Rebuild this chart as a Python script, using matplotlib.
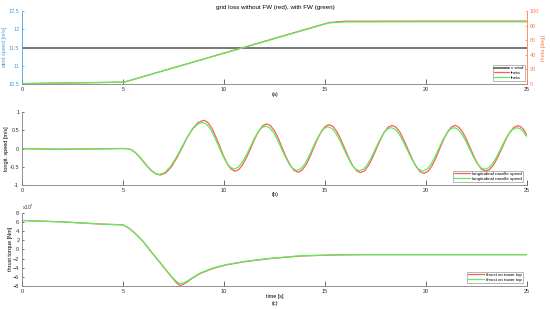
import numpy as np
import matplotlib.pyplot as plt

plt.rcParams['font.family'] = ['Liberation Sans', 'DejaVu Sans']

# panel (a): wind speed (left axis) and pitch angle (right axis)
wind_t = [0, 25]
v_wind = [11.5, 11.5]
theta_t = [0, 2.5, 5.05, 15.2, 16, 20, 25]
theta_red = [0.5, 1.5, 2.5, 84.5, 86.3, 86.5, 86.5]
theta_green = [0.5, 1.5, 2.5, 84.0, 85.3, 85.5, 85.5]

# panel (b): longitudinal nacelle speed
speed_t_red = [0, 0.5, 1, 1.5, 2, 2.5, 3, 3.5, 4, 4.5, 5,
               5.2, 5.41, 5.61, 5.82, 6.03, 6.23, 6.44, 6.64,
               6.85, 7.12, 7.39, 7.66, 7.93, 8.19, 8.46, 8.73,
               9.0, 9.19, 9.39, 9.58, 9.78, 9.97, 10.16, 10.36,
               10.55, 10.75, 10.94, 11.14, 11.34, 11.53, 11.73, 11.92,
               12.12, 12.31, 12.51, 12.7, 12.89, 13.08, 13.28, 13.47,
               13.66, 13.85, 14.05, 14.24, 14.43, 14.62, 14.82, 15.01,
               15.2, 15.4, 15.59, 15.79, 15.98, 16.18, 16.37, 16.57,
               16.76, 16.96, 17.15, 17.35, 17.54, 17.74, 17.93, 18.13,
               18.32, 18.52, 18.72, 18.91, 19.11, 19.31, 19.51, 19.7,
               19.9, 20.09, 20.29, 20.48, 20.67, 20.86, 21.06, 21.25,
               21.44, 21.63, 21.82, 22.01, 22.2, 22.39, 22.58, 22.77,
               22.96, 23.16, 23.36, 23.56, 23.76, 23.95, 24.15, 24.35,
               24.55, 24.7, 24.85, 25.0]
speed_red = [0, -0.005, -0.01, -0.015, -0.015, -0.012, -0.01, -0.008, -0.005, 0, 0.003,
             0, -0.028, -0.106, -0.224, -0.363, -0.501, -0.619, -0.697,
             -0.725, -0.668, -0.505, -0.26, 0.028, 0.315, 0.56, 0.723,
             0.78, 0.727, 0.576, 0.347, 0.08, -0.187, -0.416, -0.567,
             -0.62, -0.571, -0.43, -0.218, 0.03, 0.278, 0.49, 0.631,
             0.68, 0.629, 0.486, 0.269, 0.015, -0.239, -0.456, -0.599,
             -0.65, -0.6, -0.459, -0.245, 0.005, 0.255, 0.469, 0.61,
             0.66, 0.61, 0.467, 0.252, 0.0, -0.252, -0.467, -0.61,
             -0.66, -0.611, -0.47, -0.258, -0.01, 0.238, 0.45, 0.591,
             0.64, 0.59, 0.447, 0.232, -0.02, -0.272, -0.487, -0.63,
             -0.68, -0.63, -0.487, -0.272, -0.02, 0.232, 0.447, 0.59,
             0.64, 0.592, 0.456, 0.251, 0.01, -0.231, -0.436, -0.572,
             -0.62, -0.572, -0.438, -0.234, 0.005, 0.244, 0.448, 0.583,
             0.63, 0.6, 0.52, 0.37]
speed_t_green = [0, 0.5, 1, 1.5, 2, 2.5, 3, 3.5, 4, 4.5, 5,
                 5.2, 5.4, 5.6, 5.8, 6.0, 6.2, 6.4, 6.6,
                 6.8, 7.07, 7.34, 7.61, 7.88, 8.14, 8.41, 8.68,
                 8.95, 9.14, 9.34, 9.53, 9.73, 9.92, 10.11, 10.31,
                 10.5, 10.7, 10.89, 11.09, 11.29, 11.48, 11.68, 11.87,
                 12.07, 12.26, 12.46, 12.65, 12.84, 13.03, 13.23, 13.42,
                 13.61, 13.8, 14.0, 14.19, 14.38, 14.57, 14.77, 14.96,
                 15.15, 15.35, 15.54, 15.74, 15.93, 16.13, 16.32, 16.52,
                 16.71, 16.91, 17.1, 17.3, 17.49, 17.69, 17.88, 18.08,
                 18.27, 18.47, 18.67, 18.86, 19.06, 19.26, 19.46, 19.65,
                 19.85, 20.04, 20.24, 20.43, 20.62, 20.81, 21.01, 21.2,
                 21.39, 21.58, 21.77, 21.96, 22.15, 22.34, 22.53, 22.72,
                 22.91, 23.11, 23.31, 23.51, 23.71, 23.9, 24.1, 24.3,
                 24.5, 24.65, 24.8, 25.0]
speed_green = [0, -0.005, -0.01, -0.015, -0.015, -0.012, -0.01, -0.008, -0.005, 0, 0.003,
               0, -0.027, -0.104, -0.219, -0.355, -0.491, -0.606, -0.683,
               -0.71, -0.656, -0.501, -0.268, 0.005, 0.278, 0.511, 0.666,
               0.72, 0.671, 0.533, 0.324, 0.08, -0.164, -0.373, -0.511,
               -0.56, -0.515, -0.388, -0.195, 0.03, 0.255, 0.448, 0.575,
               0.62, 0.574, 0.442, 0.243, 0.01, -0.223, -0.422, -0.554,
               -0.6, -0.554, -0.425, -0.229, 0.0, 0.229, 0.425, 0.554,
               0.6, 0.554, 0.423, 0.226, -0.005, -0.236, -0.433, -0.564,
               -0.61, -0.565, -0.436, -0.242, -0.015, 0.212, 0.406, 0.535,
               0.58, 0.535, 0.406, 0.211, -0.018, -0.246, -0.441, -0.57,
               -0.615, -0.57, -0.44, -0.246, -0.018, 0.211, 0.406, 0.535,
               0.58, 0.536, 0.412, 0.225, 0.005, -0.215, -0.402, -0.526,
               -0.57, -0.526, -0.403, -0.216, 0.003, 0.221, 0.408, 0.531,
               0.575, 0.55, 0.48, 0.33]

# panel (c): thrust on tower top, in 1e7 Nm
thrust_t = [0, 1, 2, 3, 4, 5, 5.3, 5.6, 6.0, 6.5, 7.0, 7.4, 7.65, 7.82, 8.0, 8.15,
            8.4, 8.8, 9.2, 9.5, 10.1, 11, 12.3, 13.8, 15.6, 17, 20, 22, 25]
thrust_red = [6.3, 6.15, 6.0, 5.75, 5.5, 5.35, 4.6, 3.5, 1.7, -1.1, -3.8, -6.0, -7.3, -7.9,
              -7.6, -7.2, -6.4, -5.3, -4.6, -4.1, -3.4, -2.7, -2.0, -1.45, -1.2, -1.15,
              -1.15, -1.15, -1.15]
thrust_green = [6.3, 6.15, 6.0, 5.75, 5.5, 5.35, 4.6, 3.5, 1.7, -1.1, -3.75, -5.95, -7.0, -7.5,
                -7.3, -7.0, -6.3, -5.2, -4.5, -4.0, -3.35, -2.65, -1.95, -1.4, -1.2, -1.15,
                -1.15, -1.15, -1.15]

red = '#ff5a5a'
green = '#5af05a'
gray = '#808080'
blue = '#4a9fe0'
orange = '#ff7f50'

fig = plt.figure(figsize=(5.5, 3.09), dpi=100)
ax1 = fig.add_axes([0.04, 0.7282, 0.918, 0.2353])
ax2 = fig.add_axes([0.04, 0.4013, 0.918, 0.2353])
ax3 = fig.add_axes([0.04, 0.0744, 0.918, 0.2372])


def style(ax):
    ax.spines['top'].set_visible(False)
    ax.spines['right'].set_visible(False)
    for s in ['left', 'bottom']:
        ax.spines[s].set_color(gray)
        ax.spines[s].set_linewidth(0.6)
    ax.set_xlim(0, 25)
    ax.set_xticks(range(0, 26, 5))
    ax.tick_params(axis='x', direction='in', length=3.6, width=0.5, labelsize=4,
                   pad=2, colors='#303030')
    ax.tick_params(axis='y', direction='in', length=1.5, width=0.5, labelsize=4,
                   pad=2, colors='#303030')


for ax in [ax1, ax2, ax3]:
    style(ax)

# (a)
l0, = ax1.plot(wind_t, v_wind, color='#606060', lw=1.2, label='v wind')
ax1.set_ylim(10.5, 12.5)
ax1.set_yticks([10.5, 11, 11.5, 12, 12.5])
ax1.set_yticklabels(['10.5', '11', '11.5', '12', '12.5'])
ax1.spines['left'].set_color(blue)
ax1.tick_params(axis='y', colors=blue)
ax1.set_ylabel('wind speed [m/s]', fontsize=4, color=blue)
ax1.yaxis.set_label_coords(-0.03, 0.5)

ax1r = ax1.twinx()
ax1r.set_xlim(0, 25)
for s in ['top', 'left', 'bottom']:
    ax1r.spines[s].set_visible(False)
ax1r.spines['right'].set_color(orange)
ax1r.spines['right'].set_linewidth(0.6)
l1, = ax1r.plot(theta_t, theta_red, color=red, lw=0.9, label='theta')
l2, = ax1r.plot(theta_t, theta_green, color=green, lw=0.9, label='theta')
ax1r.set_ylim(0, 100)
ax1r.set_yticks(range(0, 101, 20))
ax1r.tick_params(axis='y', direction='in', length=1.5, width=0.5, labelsize=4,
                 pad=2, colors=orange)
ax1r.set_ylabel('theta [deg]', fontsize=4, color=orange)
ax1r.yaxis.set_label_coords(1.028, 0.5)

leg_kw = dict(fontsize=3.2, frameon=True, fancybox=False, edgecolor=gray,
              borderpad=0.3, labelspacing=0.15, handlelength=3.5, handletextpad=0.4,
              borderaxespad=0)
lg = ax1r.legend([l0, l1, l2], ['v wind', 'theta', 'theta'], loc='lower right',
                 bbox_to_anchor=(0.996, 0.04), **leg_kw)
lg.get_frame().set_linewidth(0.5)

# (b)
ax2.plot(speed_t_red, speed_red, color=red, lw=0.9, label='longitudinal nacelle speed')
ax2.plot(speed_t_green, speed_green, color=green, lw=0.9, label='longitudinal nacelle speed')
ax2.set_ylim(-1, 1)
ax2.set_yticks([-1, -0.5, 0, 0.5, 1])
ax2.set_yticklabels(['-1', '-0.5', '0', '0.5', '1'])
ax2.set_ylabel('longit. speed [m/s]', fontsize=4)
ax2.yaxis.set_label_coords(-0.026, 0.5)
lg = ax2.legend(loc='lower right', bbox_to_anchor=(0.992, 0.04), **leg_kw)
lg.get_frame().set_linewidth(0.5)

# (c)
ax3.plot(thrust_t, thrust_red, color=red, lw=0.9, label='thrust on tower top')
ax3.plot(thrust_t, thrust_green, color=green, lw=0.9, label='thrust on tower top')
ax3.set_ylim(-8, 8)
ax3.set_yticks(range(-8, 9, 2))
ax3.set_ylabel('thrust torque [Nm]', fontsize=4)
ax3.yaxis.set_label_coords(-0.018, 0.5)
ax3.text(0.0, 1.005, r'x10$^{7}$', transform=ax3.transAxes, fontsize=3.5,
         ha='left', va='bottom', color='#303030')
lg = ax3.legend(loc='lower right', bbox_to_anchor=(0.992, 0.04), **leg_kw)
lg.get_frame().set_linewidth(0.5)

fig.text(0.5, 0.977, 'grid loss without FW (red), with FW (green)', ha='center',
         va='center', fontsize=4.5)
fig.text(0.5, 0.693, '(a)', ha='center', va='center', fontsize=4)
fig.text(0.5, 0.369, '(b)', ha='center', va='center', fontsize=4)
fig.text(0.5, 0.039, 'time [s]', ha='center', va='center', fontsize=4)
fig.text(0.5, 0.019, '(c)', ha='center', va='center', fontsize=4)

fig.savefig('out.png', dpi=100)
